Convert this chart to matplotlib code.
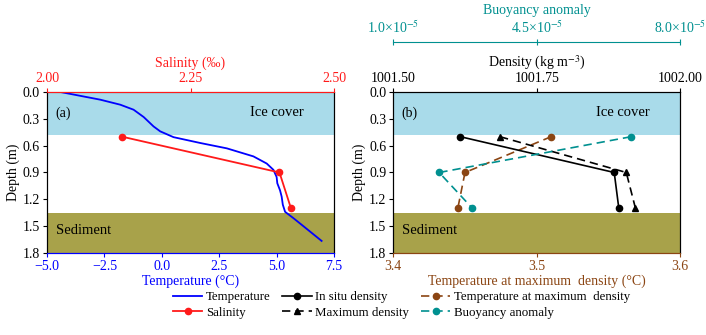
import matplotlib
matplotlib.use("Agg")
import matplotlib.pyplot as plt
from matplotlib.lines import Line2D

plt.rcParams['font.family'] = ['Liberation Serif', 'DejaVu Serif']
plt.rcParams['font.size'] = 10
plt.rcParams['mathtext.fontset'] = 'stix'

# temperature profile (deg C) vs depth (m)
temp_depth = [0.0, 0.086, 0.142, 0.198, 0.28, 0.385, 0.44, 0.505, 0.57, 0.63, 0.72, 0.80,
              0.87, 0.95, 1.02, 1.10, 1.17, 1.26, 1.34, 1.41, 1.53, 1.665]
temp = [-4.42, -2.68, -1.81, -1.23, -0.79, -0.36, -0.07, 0.51, 1.67, 2.83, 3.99, 4.57,
        4.86, 5.00, 5.03, 5.15, 5.22, 5.27, 5.37, 5.73, 6.31, 6.96]

# sampled depths
depth = [0.5, 0.9, 1.3]
salinity = [2.131, 2.405, 2.425]
insitu_density = [1001.617, 1001.885, 1001.893]
max_density = [1001.686, 1001.906, 1001.922]
tmd = [3.510, 3.450, 3.445]
buoyancy = [6.80e-5, 2.12e-5, 2.93e-5]

ice_bottom = 0.48
sediment_top = 1.35

blue = '#0000ff'
red = '#ff1a1a'
brown = '#8b4513'
teal = '#009090'
ice_col = '#a9dbea'
sed_col = '#a8a24a'

fig = plt.figure(figsize=(7.06, 3.35), dpi=100)
ax1 = fig.add_axes([0.0666, 0.2448, 0.4065, 0.4806])
ax2 = fig.add_axes([0.557, 0.2448, 0.4065, 0.4806])

for ax in (ax1, ax2):
    ax.axhspan(0, ice_bottom, color=ice_col, lw=0, zorder=0)
    ax.axhspan(sediment_top, 1.8, color=sed_col, lw=0, zorder=0)
    ax.set_ylim(1.8, 0)
    ax.set_yticks([0.0, 0.3, 0.6, 0.9, 1.2, 1.5, 1.8])
    ax.set_yticklabels(['%.1f' % v for v in [0.0, 0.3, 0.6, 0.9, 1.2, 1.5, 1.8]])
    ax.set_ylabel('Depth (m)', labelpad=2)
    ax.text(0.8, 0.87, 'Ice cover', transform=ax.transAxes, ha='center', va='center', fontsize=10.5)
    ax.text(0.03, 0.14, 'Sediment', transform=ax.transAxes, ha='left', va='center', fontsize=10.5)
    ax.tick_params(axis='y', length=3, pad=2)

# panel (a)
ax1.plot(temp, temp_depth, color=blue, lw=1.3, zorder=3)
ax1.set_xlim(-5, 7.5)
ax1.set_xticks([-5, -2.5, 0, 2.5, 5, 7.5])
ax1.set_xticklabels(['\u22125.0', '\u22122.5', '0.0', '2.5', '5.0', '7.5'])
ax1.set_xlabel('Temperature (\u00b0C)', color=blue, labelpad=1)
ax1.tick_params(axis='x', colors=blue, length=3, pad=2)
ax1.spines['bottom'].set_color(blue)
ax1.text(0.03, 0.87, '(a)', transform=ax1.transAxes, ha='left', va='center', fontsize=10)

ax1s = ax1.twiny()
ax1s.plot(salinity, depth, color=red, lw=1.3, marker='o', ms=4.5, zorder=4)
ax1s.set_xlim(2.0, 2.5)
ax1s.set_xticks([2.0, 2.25, 2.5])
ax1s.set_xticklabels(['2.00', '2.25', '2.50'])
ax1s.set_xlabel('Salinity (\u2030)', color=red, labelpad=4)
ax1s.tick_params(axis='x', colors=red, length=3, pad=2)
ax1s.spines['top'].set_color(red)
ax1s.spines['bottom'].set_color(blue)

# panel (b)
ax2.plot(tmd, depth, color=brown, lw=1.2, ls=(0, (5, 3)), marker='o', ms=4.5, zorder=3)
ax2.set_xlim(3.4, 3.6)
ax2.set_xticks([3.4, 3.5, 3.6])
ax2.set_xlabel('Temperature at maximum  density (\u00b0C)', color=brown, labelpad=1)
ax2.tick_params(axis='x', colors=brown, length=3, pad=2)
ax2.spines['bottom'].set_color(brown)
ax2.text(0.03, 0.87, '(b)', transform=ax2.transAxes, ha='left', va='center', fontsize=10)

ax2d = ax2.twiny()
ax2d.plot(insitu_density, depth, color='black', lw=1.2, marker='o', ms=4.5, zorder=4)
ax2d.plot(max_density, depth, color='black', lw=1.2, ls=(0, (5, 3)), marker='^', ms=5, zorder=4)
ax2d.set_xlim(1001.5, 1002.0)
ax2d.set_xticks([1001.5, 1001.75, 1002.0])
ax2d.set_xticklabels(['1001.50', '1001.75', '1002.00'])
ax2d.set_xlabel('Density (kg m$^{-3}$)', labelpad=4)
ax2d.tick_params(axis='x', length=3, pad=2)
ax2d.spines['bottom'].set_color(brown)

ax2b = ax2.twiny()
ax2b.plot(buoyancy, depth, color=teal, lw=1.2, ls=(0, (5, 3)), marker='o', ms=4.5, zorder=4)
ax2b.set_xlim(1.0e-5, 8.0e-5)
ax2b.set_xticks([1.0e-5, 4.5e-5, 8.0e-5])
ax2b.set_xticklabels(['1.0\u00d710$^{-5}$', '4.5\u00d710$^{-5}$', '8.0\u00d710$^{-5}$'])
ax2b.spines['top'].set_position(('axes', 1.313))
ax2b.spines['top'].set_color(teal)
for s in ('left', 'right', 'bottom'):
    ax2b.spines[s].set_visible(False)
ax2b.set_xlabel('Buoyancy anomaly', color=teal, labelpad=4)
ax2b.tick_params(axis='x', colors=teal, length=4, pad=2, direction='inout')

handles = [
    Line2D([], [], color=blue, lw=1.3),
    Line2D([], [], color=red, lw=1.3, marker='o', ms=4.5),
    Line2D([], [], color='black', lw=1.2, marker='o', ms=4.5),
    Line2D([], [], color='black', lw=1.2, ls=(0, (5, 3)), marker='^', ms=5),
    Line2D([], [], color=brown, lw=1.2, ls=(0, (5, 3)), marker='o', ms=4.5),
    Line2D([], [], color=teal, lw=1.2, ls=(0, (5, 3)), marker='o', ms=4.5),
]
labels = ['Temperature', 'Salinity', 'In situ density', 'Maximum density',
          'Temperature at maximum  density', 'Buoyancy anomaly']
fig.legend(handles, labels, ncol=3, loc='center', bbox_to_anchor=(0.569, 0.09),
           frameon=False, handlelength=2.25, handletextpad=0.3, columnspacing=0.9,
           labelspacing=0.25, fontsize=9.3, borderpad=0.2)

fig.savefig('out.png', dpi=100)
